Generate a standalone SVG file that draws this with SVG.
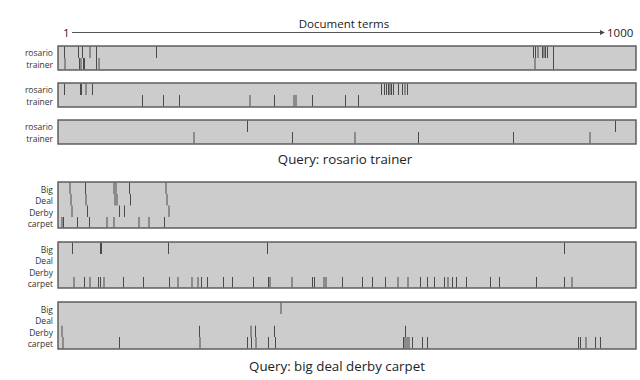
<svg xmlns="http://www.w3.org/2000/svg" width="640" height="380" viewBox="0 0 640 380">
<style>
.bar{fill:#cccccc;stroke:#555555;stroke-width:1.4}
.tk{stroke:#4a4a4a;stroke-width:1;fill:none}
.lbl{font-family:"Open Sans","Noto Sans",sans-serif;font-size:8.5px;fill:#333333;text-anchor:end}
.ttl{font-family:"Open Sans","Noto Sans",sans-serif;font-size:11.5px;fill:#222222}
.cap{font-family:"Open Sans","Noto Sans",sans-serif;font-size:13.3px;fill:#222222;text-anchor:middle}
</style>
<defs>
<marker id="ah" viewBox="0 0 6 6" refX="5" refY="3" markerWidth="5" markerHeight="5" orient="auto" markerUnits="userSpaceOnUse">
<path d="M0,0 L6,3 L0,6 z" fill="#444444"/>
</marker>
</defs>
<g id="axis">
<text class="ttl" x="63" y="37">1</text>
<text class="ttl" x="344" y="28" text-anchor="middle">Document terms</text>
<text class="ttl" x="607" y="37">1000</text>
</g>
<g id="connectors">
<line x1="72" y1="32.5" x2="604" y2="32.5" stroke="#555555" stroke-width="1" marker-end="url(#ah)"/>
</g>
<g id="doc1">
<rect class="bar" x="58" y="46" width="578" height="24"/>
<text class="lbl" x="53" y="56">rosario</text>
<text class="lbl" x="53" y="67.5">trainer</text>
<path class="tk" d="M64.5,46.7V58M78.5,46.7V58M82.5,46.7V58M90,46.7V58M96.5,46.7V58M156.5,46.7V58M533.5,46.7V58M535.5,46.7V58M538,46.7V58M542.5,46.7V58M544,46.7V58M545.5,46.7V58M547.5,46.7V58M553.5,46.7V58"/>
<path class="tk" d="M65,58V69.3M79.5,58V69.3M81,58V69.3M83.5,58V69.3M84.5,58V69.3M96.5,58V69.3M99,58V69.3M535,58V69.3M553.5,58V69.3"/>
</g>
<g id="doc2">
<rect class="bar" x="58" y="83" width="578" height="24"/>
<text class="lbl" x="53" y="93">rosario</text>
<text class="lbl" x="53" y="104.5">trainer</text>
<path class="tk" d="M64.5,83.7V95M80.5,83.7V95M81.5,83.7V95M86,83.7V95M92.5,83.7V95M381.5,83.7V95M384.5,83.7V95M386.5,83.7V95M388.5,83.7V95M390,83.7V95M391.5,83.7V95M393.5,83.7V95M398.5,83.7V95M402.5,83.7V95M405,83.7V95M407.5,83.7V95"/>
<path class="tk" d="M142.5,95V106.3M163.5,95V106.3M179.5,95V106.3M250,95V106.3M274.5,95V106.3M294,95V106.3M296,95V106.3M312.5,95V106.3M345.5,95V106.3M358.5,95V106.3"/>
</g>
<g id="doc3">
<rect class="bar" x="58" y="120" width="578" height="24"/>
<text class="lbl" x="53" y="130">rosario</text>
<text class="lbl" x="53" y="141.5">trainer</text>
<path class="tk" d="M247.5,120.7V132M615.5,120.7V132"/>
<path class="tk" d="M194,132V143.3M292.5,132V143.3M355,132V143.3M418.5,132V143.3M513.5,132V143.3M590,132V143.3"/>
</g>
<text class="cap" x="345" y="164">Query: rosario trainer</text>
<g id="doc4">
<rect class="bar" x="58" y="182" width="578" height="46"/>
<text class="lbl" x="53" y="192.5">Big</text>
<text class="lbl" x="53" y="204">Deal</text>
<text class="lbl" x="53" y="215.5">Derby</text>
<text class="lbl" x="53" y="227">carpet</text>
<path class="tk" d="M70,182.7V194M85.5,182.7V194M114,182.7V194M116,182.7V194M129.5,182.7V194M166,182.7V194"/>
<path class="tk" d="M71,194V205.5M86,194V205.5M115,194V205.5M117,194V205.5M130.5,194V205.5M167,194V205.5"/>
<path class="tk" d="M72,205.5V217M87.5,205.5V217M119.5,205.5V217M124.5,205.5V217M169,205.5V217"/>
<path class="tk" d="M62,217V227.3M63.5,217V227.3M77.5,217V227.3M89.5,217V227.3M107,217V227.3M114,217V227.3M139,217V227.3M149,217V227.3M164.5,217V227.3"/>
</g>
<g id="doc5">
<rect class="bar" x="58" y="242" width="578" height="46"/>
<text class="lbl" x="53" y="252.5">Big</text>
<text class="lbl" x="53" y="264">Deal</text>
<text class="lbl" x="53" y="275.5">Derby</text>
<text class="lbl" x="53" y="287">carpet</text>
<path class="tk" d="M72.5,242.7V254M100.5,242.7V254M101.5,242.7V254M168.5,242.7V254M267.5,242.7V254M564.5,242.7V254"/>
<path class="tk" d="M74,277V287.3M84.5,277V287.3M90,277V287.3M98.5,277V287.3M100.5,277V287.3M104,277V287.3M123.5,277V287.3M143.5,277V287.3M169.5,277V287.3M178,277V287.3M192,277V287.3M198,277V287.3M201.5,277V287.3M207.5,277V287.3M223.5,277V287.3M232.5,277V287.3M253.5,277V287.3M268.5,277V287.3M270,277V287.3M292,277V287.3M312.5,277V287.3M314.5,277V287.3M324,277V287.3M326,277V287.3M342.5,277V287.3M362.5,277V287.3M372.5,277V287.3M385.5,277V287.3M398,277V287.3M408,277V287.3M420.5,277V287.3M427.5,277V287.3M434.5,277V287.3M444.5,277V287.3M448,277V287.3M452.5,277V287.3M456.5,277V287.3M466.5,277V287.3M490.5,277V287.3M499.5,277V287.3M536.5,277V287.3M564.5,277V287.3M572,277V287.3"/>
</g>
<g id="doc6">
<rect class="bar" x="58" y="302" width="578" height="47"/>
<text class="lbl" x="53" y="312.5">Big</text>
<text class="lbl" x="53" y="324">Deal</text>
<text class="lbl" x="53" y="335.5">Derby</text>
<text class="lbl" x="53" y="347">carpet</text>
<path class="tk" d="M281,302.7V314"/>
<path class="tk" d="M62,325.7V337M199.5,325.7V337M251,325.7V337M255.5,325.7V337M274.5,325.7V337M405.5,325.7V337"/>
<path class="tk" d="M63,337V348.3M119.5,337V348.3M200,337V348.3M247.5,337V348.3M251.5,337V348.3M256,337V348.3M268.5,337V348.3M275.5,337V348.3M403.5,337V348.3M405,337V348.3M407,337V348.3M409,337V348.3M412.5,337V348.3M422.5,337V348.3M427.5,337V348.3M578.5,337V348.3M580.5,337V348.3M586,337V348.3M595.5,337V348.3M600.5,337V348.3"/>
</g>
<text class="cap" x="337" y="371">Query: big deal derby carpet</text>
</svg>
